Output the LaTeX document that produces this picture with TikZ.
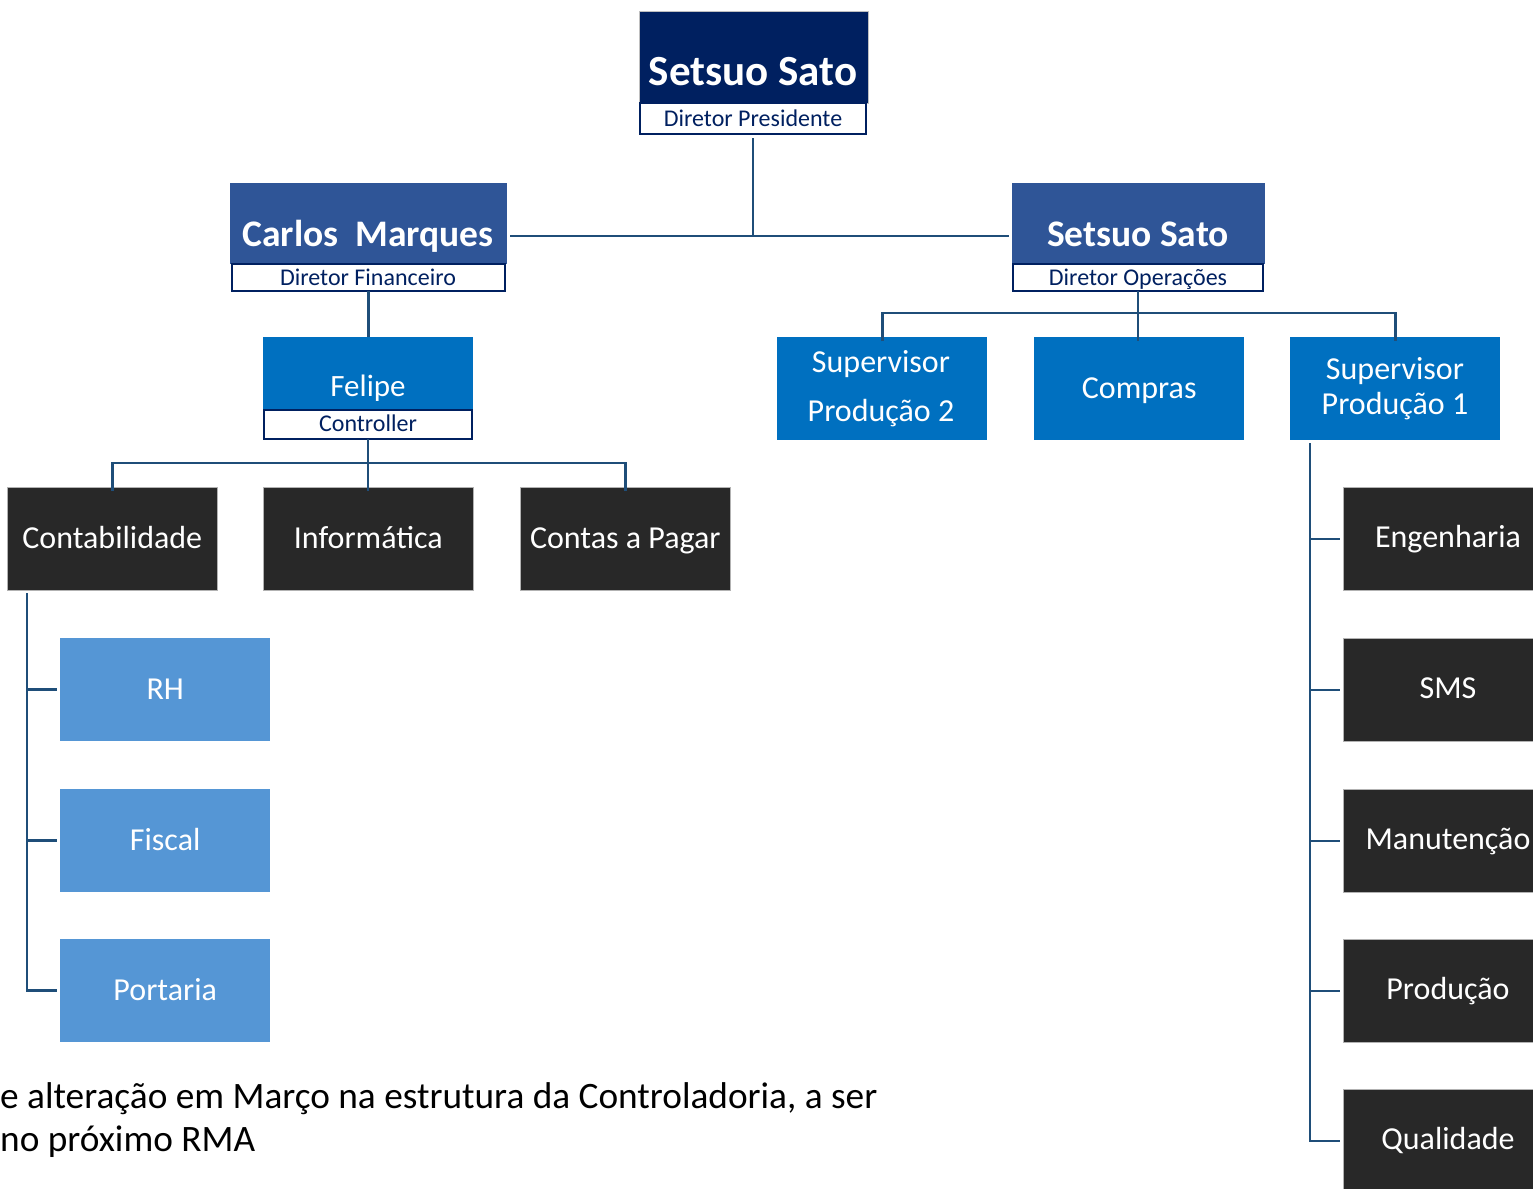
\documentclass[tikz,border=0pt]{standalone}
\usepackage{fontspec}
\setmainfont{Carlito}
\definecolor{navy}{HTML}{002060}
\definecolor{midblue}{HTML}{2F5597}
\definecolor{brblue}{HTML}{0070C0}
\definecolor{ltblue}{HTML}{5596D5}
\definecolor{dark}{HTML}{282828}
\definecolor{linec}{HTML}{1F4E79}
\definecolor{subtxt}{HTML}{002060}
\begin{document}
\begin{tikzpicture}[x=1bp,y=-1bp,
  head/.style={draw=none,inner sep=0pt,anchor=north west},
  sub/.style={draw=navy,line width=2.2bp,fill=white,inner sep=0pt,outer sep=0pt,anchor=north west},
  boxbase/.style={inner sep=0pt,anchor=north west,text=white,minimum width=210bp,minimum height=103bp,text height=24bp,text depth=4.5bp,font=\fontsize{32bp}{36bp}\selectfont},
  bluebox/.style={boxbase,fill=brblue},
  darkbox/.style={boxbase,fill=dark,draw=gray!60,line width=0.6bp},
  ltbox/.style={boxbase,fill=ltblue},
  txt/.style={inner sep=0pt,text height=24bp,text depth=4.5bp,font=\fontsize{32bp}{36bp}\selectfont},
  title/.style={inner sep=0pt,text=white,text height=27bp,text depth=3.5bp,font=\bfseries\fontsize{37.5bp}{40bp}\selectfont},
  bigtitle/.style={inner sep=0pt,text=white,text height=31bp,text depth=4bp,font=\bfseries\fontsize{43bp}{46bp}\selectfont},
  role/.style={inner sep=0pt,text=subtxt,text height=17.5bp,text depth=3bp,font=\fontsize{24bp}{26bp}\selectfont},
  conn/.style={draw=linec,line width=2.6bp}]
\useasboundingbox (0,0) rectangle (1533,1188);
\clip (0,0) rectangle (1533,1188);
% ---- top
\node[head,fill=navy,draw=gray!50,line width=0.6bp,minimum width=229bp,minimum height=92bp] (pres) at (639,11) {};
\node[bigtitle] (presname) at (753,72) {Setsuo Sato};
\node[sub,minimum width=226bp,minimum height=31bp] (pressub) at (640,103) {};
\node[role] (presrole) at (753,119) {Diretor Presidente};
% ---- Carlos
\node[head,fill=midblue,minimum width=277bp,minimum height=81bp] (fin) at (230,183) {};
\node[title] (finname) at (368,235) {Carlos\ \ Marques};
\node[sub,minimum width=273bp,minimum height=27bp] (finsub) at (232,264) {};
\node[role] (finrole) at (368,278) {Diretor Financeiro};
% ---- Setsuo ops
\node[head,fill=midblue,minimum width=253bp,minimum height=81bp] (ops) at (1012,183) {};
\node[title] (opsname) at (1138,235) {Setsuo Sato};
\node[sub,minimum width=250bp,minimum height=27bp] (opssub) at (1013,264) {};
\node[role] (opsrole) at (1138,278) {Diretor Operações};
% ---- Felipe
\node[head,fill=brblue,minimum width=210bp,minimum height=72bp] (fel) at (263,337) {};
\node[txt,text=white,font=\fontsize{31bp}{34bp}\selectfont] (felname) at (368,387) {Felipe};
\node[sub,minimum width=208bp,minimum height=29bp] (felsub) at (264,410) {};
\node[role] (felrole) at (368,424) {Controller};
% ---- blue row
\node[bluebox] (sp2) at (777,337) {};
\node[txt,text=white] (sp2a) at (881,363) {Supervisor};
\node[txt,text=white] (sp2b) at (881,412) {Produção 2};
\node[bluebox] (comp) at (1034,337) {Compras};
\node[bluebox] (sp1) at (1290,337) {};
\node[txt,text=white] (sp1a) at (1395,370) {Supervisor};
\node[txt,text=white] (sp1b) at (1395,405) {Produção 1};
% ---- dark row left
\node[darkbox] (cont) at (7,487) {Contabilidade};
\node[darkbox] (info) at (263,487) {Informática};
\node[darkbox] (cpag) at (520,487) {Contas a Pagar};
% ---- light blue
\node[ltbox] (rh) at (60,638) {RH};
\node[ltbox] (fis) at (60,789) {Fiscal};
\node[ltbox] (port) at (60,939) {Portaria};
% ---- dark right
\node[darkbox] (eng) at (1343,487) {};
\node[txt,text=white] (engt) at (1448,538) {Engenharia};
\node[darkbox] (sms) at (1343,638) {};
\node[txt,text=white] (smst) at (1448,689) {SMS};
\node[darkbox] (man) at (1343,789) {};
\node[txt,text=white] (mant) at (1448,840) {Manutenção};
\node[darkbox] (prod) at (1343,939) {};
\node[txt,text=white] (prodt) at (1448,990) {Produção};
\node[darkbox] (qual) at (1343,1089) {};
\node[txt,text=white] (qualt) at (1448,1140) {Qualidade};
% ---- bottom text
\node[inner sep=0pt,anchor=base west,font=\fontsize{37.3bp}{40bp}\selectfont] (note1) at (0,1108) {e alteração em Março na estrutura da Controladoria, a ser};
\node[inner sep=0pt,anchor=base west,font=\fontsize{37.3bp}{40bp}\selectfont] (note2) at (0,1151) {no próximo RMA};
% ---- connectors
\coordinate (j1) at (753,236);
\draw[conn] ([yshift=-4bp]j1 |- pressub.south) -- (j1);
\draw[conn] ([xshift=3bp]fin.east |- j1) -- ([xshift=-3bp]ops.west |- j1);
\draw[conn] (fel.north |- finsub.south) -- (fel.north);
\coordinate (j2) at (368,463);
\draw[conn] (j2 |- felsub.south) -- (j2);
\draw[conn] ([yshift=-4bp]cont.north) -- (cont.north |- j2) -- (cpag.north |- j2) -- ([yshift=-4bp]cpag.north);
\draw[conn] (j2) -- ([yshift=-4bp]j2 |- info.north);
\coordinate (j3) at (1138,313);
\draw[conn] (j3 |- opssub.south) -- ([yshift=-4bp]j3 |- comp.north);
\draw[conn] ([yshift=-4bp]sp2.north) -- (sp2.north |- j3) -- (sp1.north |- j3) -- ([yshift=-4bp]sp1.north);
\coordinate (l1) at (27,593);
\draw[conn] (l1) -- (l1 |- port.west) -- ([xshift=-3bp]port.west);
\draw[conn] (l1 |- rh.west) -- ([xshift=-3bp]rh.west);
\draw[conn] (l1 |- fis.west) -- ([xshift=-3bp]fis.west);
\coordinate (r1) at (1310,443);
\draw[conn] (r1) -- (r1 |- qual.west) -- ([xshift=-3bp]qual.west);
\draw[conn] (r1 |- eng.west) -- ([xshift=-3bp]eng.west);
\draw[conn] (r1 |- sms.west) -- ([xshift=-3bp]sms.west);
\draw[conn] (r1 |- man.west) -- ([xshift=-3bp]man.west);
\draw[conn] (r1 |- prod.west) -- ([xshift=-3bp]prod.west);
\end{tikzpicture}
\end{document}
